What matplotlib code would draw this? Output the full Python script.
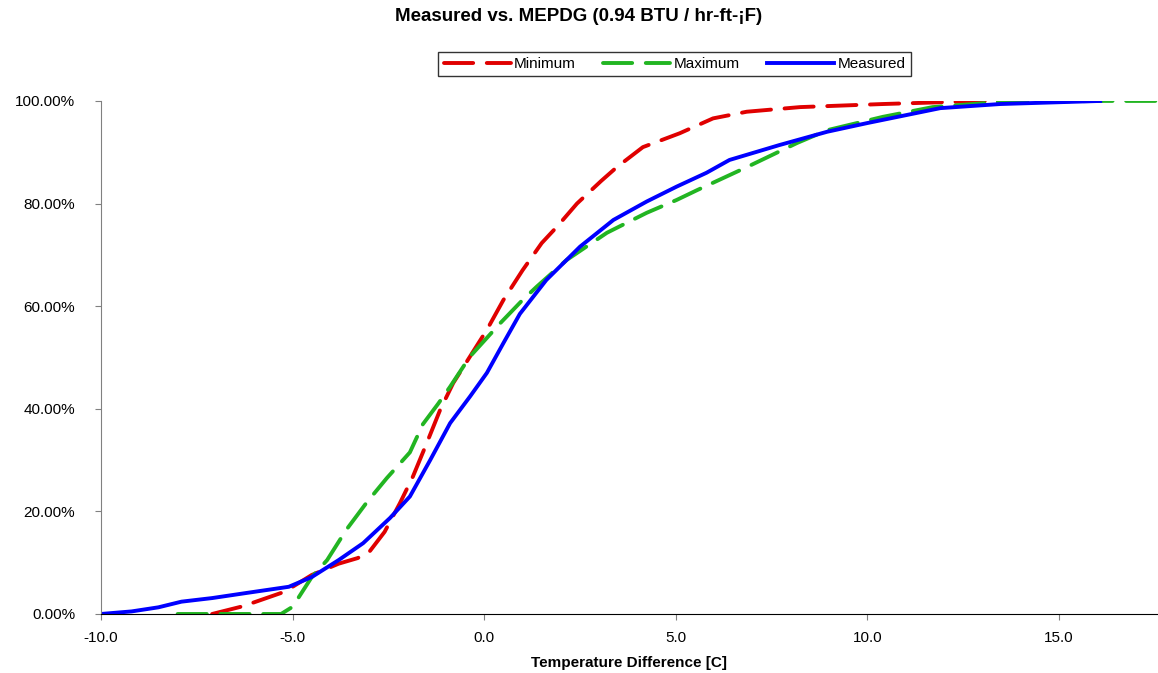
import numpy as np
import matplotlib.pyplot as plt
from matplotlib.ticker import FuncFormatter, MultipleLocator

plt.rcParams['font.family'] = ['Liberation Sans', 'DejaVu Sans']

# Values (temperature difference [C], cumulative %)
min_x = [-7.1, -6.3, -5.3, -5.0, -4.5, -3.8, -3.3, -3.0, -2.6, -2.2, -1.86, -1.5,
         -1.15, -0.81, -0.37, 0.07, 0.5, 1.0, 1.5, 1.9, 2.42, 3.05, 3.46, 4.14,
         5.1, 5.97, 6.85, 8.24, 10.4, 12.6, 14.8, 16.1]
min_y = [0.0, 1.5, 4.1, 5.3, 7.6, 9.8, 10.9, 12.1, 16.0, 21.6, 26.8, 33.3,
         39.8, 45.0, 50.2, 55.4, 61.2, 67.0, 72.3, 75.5, 80.0, 84.4, 87.1, 91.0,
         93.7, 96.6, 97.9, 98.8, 99.4, 99.9, 100.0, 100.0]

max_x = [-8.0, -5.3, -5.0, -4.5, -4.1, -3.6, -3.06, -2.54, -1.94, -1.6, -1.2,
         -0.89, -0.37, 0.42, 1.0, 1.37, 2.15, 3.2, 4.24, 5.02, 5.55, 6.85, 8.16,
         8.95, 10.4, 11.7, 13.46, 16.07, 17.6]
max_y = [0.0, 0.0, 1.4, 7.2, 10.5, 16.4, 21.8, 26.5, 31.5, 37.0, 41.0,
         44.3, 50.2, 56.7, 61.2, 63.8, 69.0, 74.3, 78.2, 80.7, 82.6, 87.1, 91.8,
         94.3, 96.9, 98.8, 99.8, 100.0, 100.0]

meas_x = [-10.0, -9.2, -8.5, -7.9, -7.1, -6.2, -5.1, -4.5, -3.8, -3.16, -2.46,
          -1.94, -1.41, -0.89, -0.37, 0.07, 0.5, 0.93, 1.62, 2.5, 3.37, 4.24,
          5.02, 5.8, 6.4, 7.7, 8.95, 10.0, 11.9, 13.46, 16.07]
meas_y = [0.0, 0.5, 1.3, 2.4, 3.1, 4.1, 5.3, 7.2, 10.5, 13.8, 18.7,
          22.9, 30.0, 37.2, 42.4, 47.0, 52.8, 58.5, 65.1, 71.6, 76.8, 80.4,
          83.3, 86.0, 88.5, 91.4, 94.0, 95.7, 98.6, 99.4, 100.0]

fig = plt.figure(figsize=(11.58, 6.73), dpi=100)
ax = fig.add_axes([0.0872, 0.0877, 0.9128, 0.7623])

ax.plot(min_x, min_y, color='#e00000', lw=2.8, dashes=(7.5, 3.5), label='Minimum',
        solid_joinstyle='round', dash_capstyle='round')
ax.plot(max_x, max_y, color='#22b522', lw=2.8, dashes=(7.5, 3.5), label='Maximum',
        solid_joinstyle='round', dash_capstyle='round')
ax.plot(meas_x, meas_y, color='#0000ff', lw=2.8, label='Measured',
        solid_joinstyle='round')

ax.set_xlim(-10, 17.58)
ax.set_ylim(0, 100)
ax.xaxis.set_major_locator(MultipleLocator(5))
ax.yaxis.set_major_locator(MultipleLocator(20))
ax.xaxis.set_major_formatter(FuncFormatter(lambda v, p: f'{v:.1f}'))
ax.yaxis.set_major_formatter(FuncFormatter(lambda v, p: f'{v:.2f}%'))

for s in ['top', 'right']:
    ax.spines[s].set_visible(False)
ax.spines['left'].set_color('#808080')
ax.spines['bottom'].set_color('black')
ax.tick_params(axis='y', colors='#808080', labelcolor='black', length=4.5, labelsize=11, pad=14)
ax.tick_params(axis='x', colors='#808080', labelcolor='black', length=4.5, labelsize=11, pad=7.5)

ax.set_xlabel('Temperature Difference [C]', fontsize=11, fontweight='bold', labelpad=8)
fig.suptitle('Measured vs. MEPDG (0.94 BTU / hr-ft-¡F)', fontsize=13.5, fontweight='bold',
             x=0.5, y=0.988)

leg = fig.legend(loc='center', bbox_to_anchor=(0.5825, 0.905), ncol=3, fontsize=11,
                 frameon=True, fancybox=False, edgecolor='black', handlelength=4.4,
                 columnspacing=1.8, handletextpad=0.2, borderpad=0.35, borderaxespad=0)
leg.get_frame().set_linewidth(1.0)

fig.savefig('out.png', dpi=100)
